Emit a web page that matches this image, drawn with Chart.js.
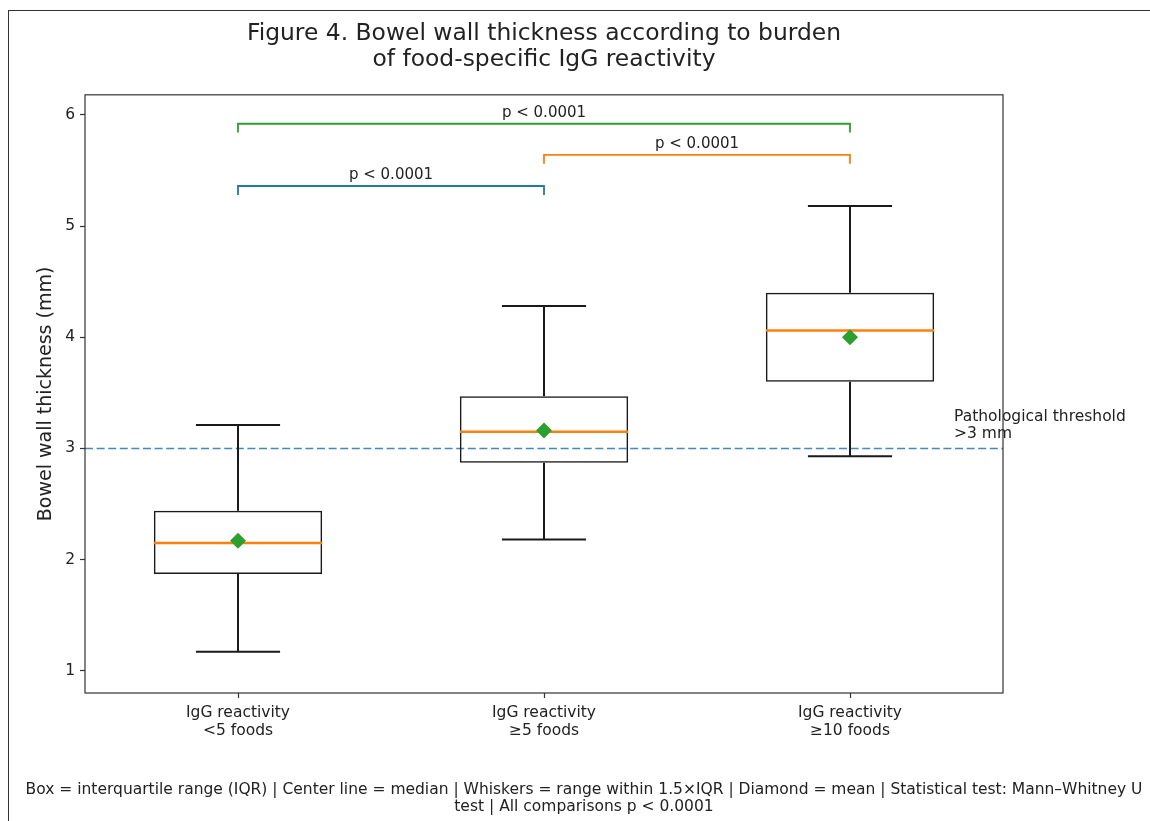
<!DOCTYPE html>
<html>
<head>
<meta charset="utf-8">
<script src="https://cdn.jsdelivr.net/npm/chart.js@4.4.1/dist/chart.umd.min.js"></script>
<style>
  body { margin: 0; background: #fff; }
  #wrap { position: relative; width: 1150px; height: 821px; }
  #frame {
    position: absolute; left: 8px; top: 10px; right: 0; bottom: 0;
    border-top: 1.5px solid #333; border-left: 1.5px solid #333;
    pointer-events: none;
  }
</style>
</head>
<body>
<div id="wrap">
  <canvas id="boxChart" width="1150" height="821"></canvas>
  <div id="frame"></div>
</div>
<script>
  var groupLabels = [
    ['IgG reactivity', '<5 foods'],
    ['IgG reactivity', '≥5 foods'],
    ['IgG reactivity', '≥10 foods']
  ];
  var q1Values = [1.87, 2.87, 3.60];
  var q3Values = [2.44, 3.47, 4.40];
  var medianValues = [2.15, 3.15, 4.06];
  var meanValues = [2.17, 3.16, 4.00];
  var whiskerLow = [1.17, 2.18, 2.93];
  var whiskerHigh = [3.21, 4.28, 5.18];
  var yTicks = [1, 2, 3, 4, 5, 6];

  var thresholdValue = 3;
  var thresholdText = ['Pathological threshold', '>3 mm'];

  // significance brackets
  var pairFrom = [0, 1, 0];
  var pairTo = [1, 2, 2];
  var pairHeight = [5.36, 5.64, 5.92];
  var pairText = ['p < 0.0001', 'p < 0.0001', 'p < 0.0001'];
  var pairColors = ['#1f77b4', '#ff7f0e', '#2ca02c'];

  var footNote = [
    'Box = interquartile range (IQR) | Center line = median | Whiskers = range within 1.5×IQR | Diamond = mean | Statistical test: Mann–Whitney U',
    'test | All comparisons p < 0.0001'
  ];

  var textColor = '#222';
  var fontName = "'DejaVu Sans', sans-serif";
  Chart.defaults.font.family = fontName;
  Chart.defaults.color = textColor;

  var boxExtras = {
    id: 'boxExtras',
    beforeDatasetsDraw: function (chart) {
      var ctx = chart.ctx, x = chart.scales.x, y = chart.scales.y, area = chart.chartArea;
      var ty = y.getPixelForValue(thresholdValue);
      ctx.save();
      ctx.strokeStyle = 'rgba(31,119,180,0.85)';
      ctx.lineWidth = 1.5;
      ctx.setLineDash([8, 3.6]);
      ctx.beginPath();
      ctx.moveTo(area.left, ty);
      ctx.lineTo(area.right, ty);
      ctx.stroke();
      ctx.setLineDash([]);
      ctx.fillStyle = textColor;
      ctx.font = '15.5px ' + fontName;
      ctx.textAlign = 'left';
      ctx.textBaseline = 'bottom';
      var tx = x.getPixelForValue(2.34);
      var by = y.getPixelForValue(3.06);
      ctx.fillText(thresholdText[0], tx, by - 17);
      ctx.fillText(thresholdText[1], tx, by);
      ctx.restore();
    },
    afterDatasetDraw: function (chart, args) {
      if (args.meta.type !== 'bar') return;
      var ctx = chart.ctx, y = chart.scales.y;
      ctx.save();
      args.meta.data.forEach(function (bar, i) {
        var cx = bar.x, half = bar.width / 2, cap = bar.width / 4;
        ctx.strokeStyle = '#1a1a1a';
        ctx.lineWidth = 2;
        ctx.beginPath();
        ctx.moveTo(cx, y.getPixelForValue(q3Values[i]));
        ctx.lineTo(cx, y.getPixelForValue(whiskerHigh[i]));
        ctx.moveTo(cx, y.getPixelForValue(q1Values[i]));
        ctx.lineTo(cx, y.getPixelForValue(whiskerLow[i]));
        ctx.moveTo(cx - cap, y.getPixelForValue(whiskerHigh[i]));
        ctx.lineTo(cx + cap, y.getPixelForValue(whiskerHigh[i]));
        ctx.moveTo(cx - cap, y.getPixelForValue(whiskerLow[i]));
        ctx.lineTo(cx + cap, y.getPixelForValue(whiskerLow[i]));
        ctx.stroke();
        ctx.strokeStyle = '#ff7f0e';
        ctx.lineWidth = 2.5;
        ctx.beginPath();
        ctx.moveTo(cx - half, y.getPixelForValue(medianValues[i]));
        ctx.lineTo(cx + half, y.getPixelForValue(medianValues[i]));
        ctx.stroke();
      });
      ctx.restore();
    },
    afterDraw: function (chart) {
      var ctx = chart.ctx, x = chart.scales.x, y = chart.scales.y, area = chart.chartArea;
      ctx.save();
      // brackets
      ctx.font = '15px ' + fontName;
      ctx.textAlign = 'center';
      ctx.textBaseline = 'bottom';
      for (var i = 0; i < pairFrom.length; i++) {
        var x1 = x.getPixelForValue(pairFrom[i]);
        var x2 = x.getPixelForValue(pairTo[i]);
        var top = y.getPixelForValue(pairHeight[i]);
        var foot = y.getPixelForValue(pairHeight[i] - 0.08);
        ctx.strokeStyle = pairColors[i];
        ctx.lineWidth = 1.8;
        ctx.beginPath();
        ctx.moveTo(x1, foot);
        ctx.lineTo(x1, top);
        ctx.lineTo(x2, top);
        ctx.lineTo(x2, foot);
        ctx.stroke();
        ctx.fillStyle = textColor;
        ctx.fillText(pairText[i], (x1 + x2) / 2, top - 3);
      }
      // axes frame
      ctx.strokeStyle = '#333';
      ctx.lineWidth = 1.2;
      ctx.strokeRect(area.left, area.top, area.right - area.left, area.bottom - area.top);

      // footnote under the figure
      ctx.font = '15.5px ' + fontName;
      ctx.textBaseline = 'middle';
      ctx.fillStyle = textColor;
      ctx.fillText(footNote[0], 584, 790);
      ctx.fillText(footNote[1], 584, 807);
      ctx.restore();
    }
  };

  new Chart('boxChart', {
    type: 'bar',
    data: {
      labels: groupLabels,
      datasets: [{
        type: 'line',
        label: 'Mean',
        data: meanValues,
        showLine: false,
        pointStyle: 'rectRot',
        pointRadius: 8,
        pointBackgroundColor: '#2ca02c',
        pointBorderColor: '#2ca02c',
        pointBorderWidth: 0
      }, {
        label: 'IQR',
        data: q1Values.map(function (q, i) { return [q, q3Values[i]]; }),
        backgroundColor: 'rgba(0,0,0,0)',
        borderColor: '#1a1a1a',
        borderWidth: 1.5,
        borderSkipped: false,
        barPercentage: 0.55,
        categoryPercentage: 1.0
      }]
    },
    options: {
      responsive: false,
      animation: false,
      layout: { padding: { left: 28, right: 147, top: 0, bottom: 50 } },
      plugins: {
        legend: { display: false },
        tooltip: { enabled: false },
        title: {
          display: true,
          fullSize: false,
          text: ['Figure 4. Bowel wall thickness according to burden', 'of food-specific IgG reactivity'],
          font: { size: 23.4, weight: 'normal', lineHeight: 1.15 },
          color: textColor,
          padding: { top: 20, bottom: 21 }
        }
      },
      scales: {
        x: {
          grid: { offset: false, drawOnChartArea: false, tickLength: 5, color: '#333', tickWidth: 1.2 },
          border: { display: false },
          ticks: { font: { size: 15.5, lineHeight: 1.15 }, padding: 6, color: textColor },
          afterFit: function (s) { s.height = 78; }
        },
        y: {
          min: 0.8,
          max: 6.18,
          afterBuildTicks: function (axis) {
            axis.ticks = yTicks.map(function (v) { return { value: v }; });
          },
          grid: { drawOnChartArea: false, tickLength: 5, color: '#333', tickWidth: 1.2 },
          border: { display: false },
          ticks: { font: { size: 15.5 }, padding: 5, color: textColor },
          title: {
            display: true,
            text: 'Bowel wall thickness (mm)',
            font: { size: 19 },
            color: textColor,
            padding: { top: 7, bottom: 4 }
          },
          afterFit: function (s) { s.width = 57; }
        }
      }
    },
    plugins: [boxExtras]
  });
</script>
</body>
</html>
